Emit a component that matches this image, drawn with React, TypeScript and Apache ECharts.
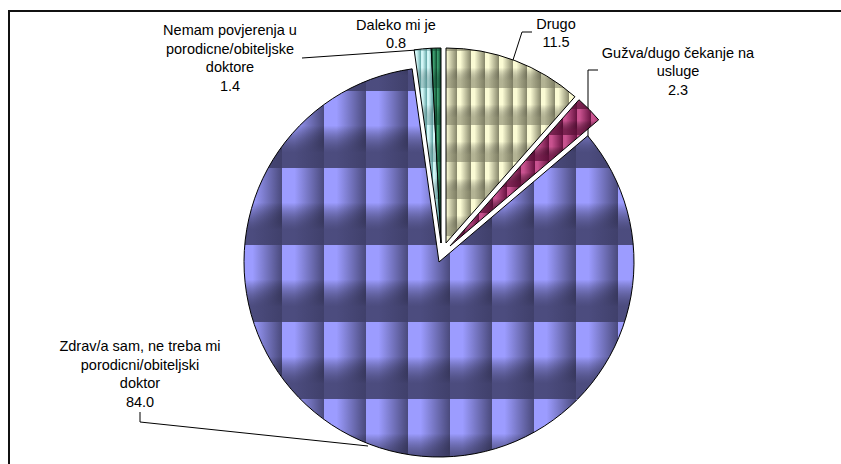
import React, { useEffect, useRef } from 'react';
import * as echarts from 'echarts';

// ---- data ----
const categories = [
  'Drugo',
  'Gužva/dugo čekanje na\nusluge',
  'Zdrav/a sam, ne treba mi\nporodicni/obiteljski\ndoktor',
  'Nemam povjerenja u\nporodicne/obiteljske\ndoktore',
  'Daleko mi je',
];
const values = [11.5, 2.3, 84.0, 1.4, 0.8];

// ---- layout (positions kept apart from data) ----
const RADIUS = 195;
// slices drawn together share one (exploded) centre
const sliceGroups = [[0], [1], [2], [3, 4]];
const groupCenters = [
  [446, 243],
  [450, 246],
  [439, 262],
  [441, 243],
];
const labelPos = [
  [556, 33],
  [678, 71],
  [140, 374],
  [230, 58],
  [396, 34],
];
const leaderPts: (number[][] | null)[] = [
  [[532, 32], [522, 32], [513, 60]],
  [[598, 70], [588, 70], [588, 140]],
  [[140, 412], [140, 422], [368, 446]],
  [[302, 58], [360, 54], [417, 50]],
  null,
];

type TileSpec = { w: number; h: number; light: string; dark: string; shade: string; split: number; ox: number; oy: number };
const tileSpecs: TileSpec[] = [
  { w: 14, h: 37, light: '#fbfbd4', dark: '#86866a', shade: 'rgba(120,120,95,0.55)', split: 0.25, ox: 9, oy: 14 },
  { w: 14, h: 26, light: '#c8528f', dark: '#661240', shade: 'rgba(90,15,55,0.7)', split: 0.2, ox: 3, oy: 5 },
  { w: 42, h: 77, light: '#9c9cff', dark: '#4a4a7c', shade: 'rgba(62,62,104,0.85)', split: 0.3, ox: 30, oy: 14 },
  { w: 6, h: 37, light: '#d2f6f6', dark: '#5fa3a3', shade: 'rgba(80,130,130,0.4)', split: 0.3, ox: 1, oy: 14 },
  { w: 4, h: 37, light: '#3c9e6e', dark: '#0b442b', shade: 'rgba(10,60,40,0.4)', split: 0.2, ox: 1, oy: 14 },
];

function makeTile(s: TileSpec): HTMLCanvasElement {
  const base = document.createElement('canvas');
  base.width = s.w;
  base.height = s.h;
  const ctx = base.getContext('2d')!;
  const g = ctx.createLinearGradient(0, 0, s.w, 0);
  g.addColorStop(0, s.light);
  g.addColorStop(s.split, s.light);
  g.addColorStop(1, s.dark);
  ctx.fillStyle = g;
  ctx.fillRect(0, 0, s.w, s.h);
  const v = ctx.createLinearGradient(0, 0, 0, s.h);
  v.addColorStop(0, 'rgba(0,0,0,0)');
  v.addColorStop(0.45, 'rgba(0,0,0,0)');
  v.addColorStop(0.8, s.shade);
  v.addColorStop(1, s.shade);
  ctx.fillStyle = v;
  ctx.fillRect(0, 0, s.w, s.h);
  // bake the page offset of the tiling into the tile (wrap around)
  const c = document.createElement('canvas');
  c.width = s.w;
  c.height = s.h;
  const cx = c.getContext('2d')!;
  const ox = ((s.ox % s.w) + s.w) % s.w;
  const oy = ((s.oy % s.h) + s.h) % s.h;
  for (const dx of [ox - s.w, ox]) {
    for (const dy of [oy - s.h, oy]) {
      cx.drawImage(base, dx, dy);
    }
  }
  return c;
}

const FONT = '"Liberation Sans", Arial, sans-serif';

export default function App() {
  const ref = useRef<HTMLDivElement>(null);
  useEffect(() => {
    if (!ref.current) return;
    const chart = echarts.init(ref.current, null, { renderer: 'svg' });
    const patterns = tileSpecs.map((s) => ({
      image: makeTile(s),
      repeat: 'repeat',
      imageWidth: s.w,
      imageHeight: s.h,
    }));

    const series = sliceGroups.map((group, gi) => {
      const visible = (i: number) => group.indexOf(i) >= 0;
      return {
        type: 'pie',
        center: groupCenters[gi],
        radius: RADIUS,
        startAngle: 90,
        clockwise: true,
        silent: true,
        avoidLabelOverlap: false,
        z: 2,
        data: values.map((v, i) => ({
          value: v,
          name: categories[i],
          itemStyle: visible(i)
            ? { color: patterns[i], borderColor: '#000', borderWidth: 1 }
            : { color: 'rgba(0,0,0,0)', borderWidth: 0, borderColor: 'rgba(0,0,0,0)' },
          label: { show: visible(i) },
          labelLine: { show: visible(i) && leaderPts[i] != null },
        })),
        label: {
          formatter: (p: any) => `${p.name}\n${Number(p.value).toFixed(1)}`,
          color: '#000',
          fontSize: 14.5,
          lineHeight: 18.5,
          fontFamily: FONT,
          align: 'center',
        },
        labelLine: {
          length: 10,
          length2: 10,
          lineStyle: { color: '#000', width: 1 },
        },
        labelLayout: (params: any) => {
          const i = params.dataIndex;
          if (!visible(i)) return {};
          const out: any = {
            x: labelPos[i][0],
            y: labelPos[i][1],
            align: 'center',
            verticalAlign: 'middle',
          };
          if (leaderPts[i]) out.labelLinePoints = leaderPts[i];
          return out;
        },
      };
    });

    chart.setOption({
      animation: false,
      backgroundColor: '#fff',
      graphic: [
        {
          type: 'rect',
          silent: true,
          shape: { x: 9, y: 11, width: 900, height: 600 },
          style: { fill: 'none', stroke: '#111', lineWidth: 2 },
          z: 0,
        },
      ],
      series,
    } as any);
    return () => chart.dispose();
  }, []);
  return (
    <div
      ref={ref}
      style={{ position: 'fixed', left: 0, top: 0, width: 841, height: 464, background: '#fff' }}
    />
  );
}
